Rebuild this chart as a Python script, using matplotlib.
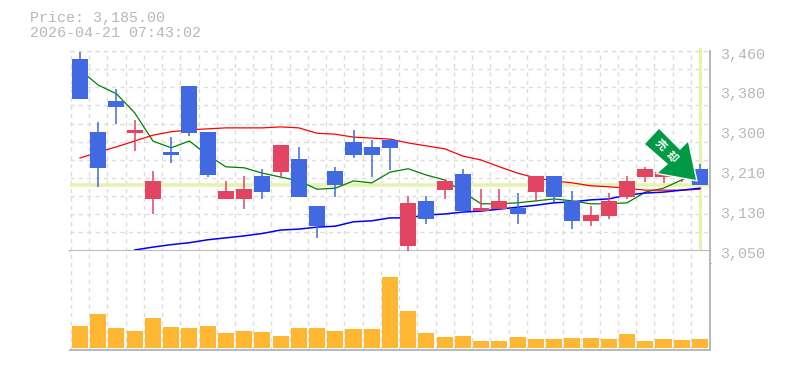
import matplotlib
matplotlib.use('Agg')
import matplotlib.pyplot as plt
import matplotlib.patheffects as pe
from matplotlib.patches import Polygon, Rectangle
from matplotlib.transforms import Affine2D
import numpy as np

W, H = 785, 370
nan = float('nan')

title_lines = ['Price: 3,185.00', '2026-04-21 07:43:02']
last_price = 3185

opens = [3444, 3294, 3357, 3292, 3156, 3252, 3388, 3294, 3156, 3156, 3203, 3211,
         3238, 3141, 3213, 3273, 3263, 3277, 3059, 3152, 3174, 3207, 3131, 3135,
         3137, 3170, 3203, 3152, 3111, 3121, 3160, 3201, 3201, 3201, 3218]
closes = [3361, 3220, 3345, 3298, 3193, 3246, 3291, 3206, 3172, 3176, 3170, 3267,
          3160, 3100, 3185, 3246, 3246, 3261, 3148, 3115, 3193, 3131, 3137, 3152,
          3125, 3203, 3160, 3111, 3123, 3152, 3193, 3218, 3211, 3209, 3185]
highs = [3458, 3314, 3382, 3318, 3213, 3283, 3388, 3294, 3193, 3203, 3218, 3267,
         3263, 3141, 3222, 3298, 3277, 3279, 3162, 3162, 3197, 3218, 3176, 3176,
         3168, 3203, 3203, 3172, 3141, 3168, 3203, 3222, 3215, 3211, 3228]
lows = [3361, 3181, 3310, 3255, 3125, 3230, 3285, 3201, 3156, 3135, 3156, 3201,
        3160, 3076, 3160, 3240, 3201, 3215, 3049, 3104, 3156, 3131, 3131, 3135,
        3104, 3150, 3150, 3094, 3100, 3115, 3156, 3191, 3189, 3191, 3185]

ma_short = [3421, 3390, 3372, 3333, 3275, 3261, 3275, 3246, 3222, 3220, 3209, 3201,
            3193, 3176, 3178, 3193, 3189, 3211, 3218, 3205, 3195, 3170, 3146, 3146,
            3148, 3152, 3156, 3152, 3146, 3146, 3148, 3170, 3178, 3195, 3211]
ma_mid = [3240, 3252, 3263, 3275, 3287, 3294, 3298, 3300, 3302, 3302, 3302, 3304,
          3302, 3291, 3289, 3283, 3281, 3279, 3271, 3265, 3259, 3244, 3236, 3222,
          3209, 3199, 3193, 3189, 3183, 3181, 3178, 3174, 3174, 3174, 3176]
ma_long = [nan, nan, nan, 3051, 3057, 3062, 3066, 3072, 3076, 3080, 3085, 3092,
           3094, 3098, 3100, 3109, 3111, 3117, 3117, 3123, 3125, 3129, 3131, 3135,
           3139, 3143, 3148, 3150, 3154, 3156, 3164, 3168, 3170, 3174, 3178]

volumes = [22, 34, 20, 17, 30, 21, 20, 22, 15, 17, 16, 12, 20, 20, 17, 19, 19, 71,
           37, 15, 11, 12, 7, 7, 11, 9, 9, 10, 10, 9, 14, 7, 9, 8, 9]

date_ticks = [4, 9, 14, 19, 24, 29, 34]
date_labels = ['3/9', '3/16', '3/24', '3/31', '4/7', '4/14', '4/21']
price_labels = [3460, 3380, 3300, 3210, 3130, 3050]
arrow_chars = ['売', '却']

GRAY = '#b8b8b8'
GRID = '#dcdcdc'
UP = '#e24462'
DOWN = '#4169e1'
MONO = 'Liberation Mono'

fig = plt.figure(figsize=(W / 100, H / 100), dpi=100, facecolor='white')


def add_axes_px(left, top, right, bottom):
    return fig.add_axes([left / W, 1 - bottom / H, (right - left) / W, (bottom - top) / H])


ax = add_axes_px(70, 51, 710, 250.5)
vax = add_axes_px(70, 250.5, 710, 350)
xlim = (-0.548, 34.55)
n = len(closes)
x = np.arange(n)

ax.set_xlim(*xlim)
ax.set_ylim(3050, 3460)
vax.set_xlim(*xlim)
vax.set_ylim(-2, 97.5)

for a in (ax, vax):
    a.set_xticks(x - 0.5, minor=False)
    a.tick_params(length=0, labelbottom=False, labelleft=False)
    a.grid(True, axis='x', color=GRID, lw=1, ls=(0, (3, 3)))
    a.set_axisbelow(True)
    for s in a.spines.values():
        s.set_visible(False)
    a.spines['right'].set_visible(True)
    a.spines['right'].set_color(GRAY)
    a.spines['right'].set_linewidth(1.4)
    a.spines['bottom'].set_visible(True)
    a.spines['bottom'].set_color(GRAY)
    a.spines['bottom'].set_linewidth(1.4)

# price panel has 11 horizontal grid bands, not lined up with the labels
ax.set_yticks(np.linspace(3050, 3460, 12))
ax.grid(True, axis='y', color=GRID, lw=1, ls=(0, (3, 3)))
ax.axhline(3460, color=GRID, lw=1, ls=(0, (3, 3)), clip_on=False)

ax.axhline(last_price, color='#e4f4ae', lw=2.6, zorder=1)
ax.axvline(x[-1], ymin=0, ymax=1.01, color='#e4f4ae', lw=2.2, zorder=1, clip_on=False)

ax.plot(x, ma_short, color='#008000', lw=0.9, zorder=2)
ax.plot(x, ma_mid, color='#ff0000', lw=0.9, zorder=2)
ax.plot(x, ma_long, color='#0000ff', lw=1.1, zorder=2)

for i in range(n):
    c = DOWN if closes[i] < opens[i] else UP
    ax.plot([i, i], [lows[i], highs[i]], color=c, lw=1.1, zorder=3, solid_capstyle='butt', clip_on=False)
    b = min(opens[i], closes[i])
    ax.add_patch(Rectangle((i - 0.44, b), 0.88, abs(closes[i] - opens[i]), fc=c, ec='none', zorder=4))

vax.bar(x, volumes, width=0.88, color='#ffb733', zorder=3)

# text sits in pixel positions, same as the original canvas
px = Affine2D().scale(1 / W, -1 / H).translate(0, 1) + fig.transFigure
fig.text(30, 18, title_lines[0], transform=px, family=MONO, fontsize=10.8, color=GRAY, va='center', ha='left')
fig.text(30, 33, title_lines[1], transform=px, family=MONO, fontsize=10.8, color=GRAY, va='center', ha='left')

for j, p in enumerate(price_labels):
    fig.text(720, 54.5 + j * 39.9, f'{p:,}', transform=px, family=MONO, fontsize=10.8, color=GRAY, va='center', ha='left')

for t, lab in zip(date_ticks, date_labels):
    ax.text(t, -0.053, lab, transform=ax.get_xaxis_transform(), family=MONO, fontsize=8, color=GRAY, va='center', ha='center', clip_on=False)

# sell signal arrow over the last candles
arrow = Polygon([(659, 129), (645, 144), (668, 164), (658, 173), (696, 180), (688, 142), (680, 150)],
                closed=True, transform=px, fc='#009944', ec='none', zorder=20,
                path_effects=[pe.withStroke(linewidth=2, foreground='white')])
fig.add_artist(arrow)
for ch, (cx, cy) in zip(arrow_chars, [(661, 145), (672, 157)]):
    fig.text(cx, cy, ch, transform=px, family=['Noto Sans CJK JP', 'DejaVu Sans'], fontsize=8, color='white',
             weight='bold', rotation=-45, rotation_mode='anchor', va='center', ha='center', zorder=21)

fig.savefig('out.png', dpi=100)
